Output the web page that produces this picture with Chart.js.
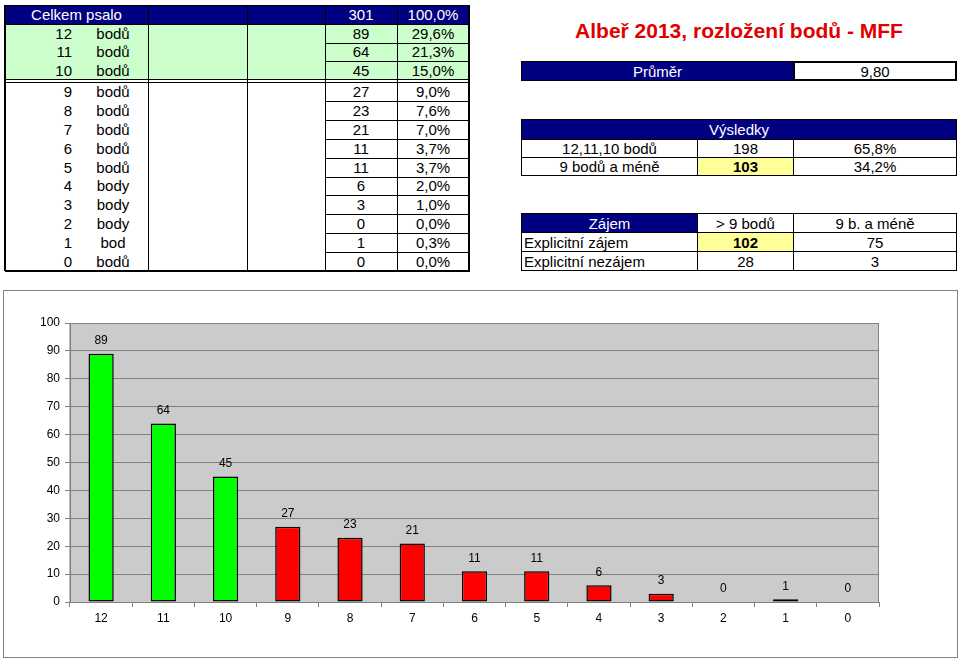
<!DOCTYPE html>
<html>
<head>
<meta charset="utf-8">
<script src="https://cdn.jsdelivr.net/npm/chart.js@4.4.0/dist/chart.umd.min.js"></script>
<style>
body { margin:0; width:960px; height:660px; background:#fff; position:relative; overflow:hidden;
       font-family:"Liberation Sans", Arial, sans-serif; font-size:15px; color:#000; }
.c { position:absolute; box-sizing:border-box; display:flex; align-items:center; justify-content:center;
     white-space:nowrap; line-height:1; }
.b { border:1px solid #000; }
.nav { background:#000080; color:#fff; }
.zl { background:#ffff99; font-weight:bold; }
.ln { position:absolute; background:#000; }
#ram { position:absolute; left:3px; top:290px; width:955px; height:368px; border:1px solid #808080; box-sizing:border-box; }
#obal { position:absolute; left:0; top:0; width:953px; height:366px; }
</style>
</head>
<body>
<div id="tabulky"></div>
<div id="ram"><div id="obal"><canvas id="graf"></canvas></div></div>

<script>
// data grafu
const kategorie = ['12', '11', '10', '9', '8', '7', '6', '5', '4', '3', '2', '1', '0'];
const pocty = [89, 64, 45, 27, 23, 21, 11, 11, 6, 3, 0, 1, 0];
const osaY = { min: 0, max: 100, krok: 10 };

// texty tabulky vlevo
const slova = ['bodů', 'bodů', 'bodů', 'bodů', 'bodů', 'bodů', 'bodů', 'bodů', 'body', 'body', 'body', 'bod', 'bodů'];
const procenta = ['29,6%', '21,3%', '15,0%', '9,0%', '7,6%', '7,0%', '3,7%', '3,7%', '2,0%', '1,0%', '0,0%', '0,3%', '0,0%'];
const celkem = 301;

const el = document.getElementById('tabulky');
function bunka(x, y, w, h, text, tridy, styl) {
  const d = document.createElement('div');
  d.className = 'c ' + (tridy || '');
  d.style.cssText = `left:${x}px;top:${y}px;width:${w}px;height:${h}px;` + (styl || '');
  d.textContent = text;
  el.appendChild(d);
  return d;
}
function cara(x, y, w, h) {
  const d = document.createElement('div');
  d.className = 'ln';
  d.style.cssText = `left:${x}px;top:${y}px;width:${w}px;height:${h}px;`;
  el.appendChild(d);
}

// --- tabulka vlevo ---
const sl = [5, 148, 247, 325, 397, 469];
const radky = [];
let yy = 24;
for (let i = 0; i < 13; i++) {
  if (i === 3) yy = 82;
  const h = i < 3 ? 18.5 : 18.9;
  radky.push([yy, h]);
  yy += h;
}
bunka(5, 5, 464, 19, '', 'nav');
bunka(5, 24, 464, 55.5, '', '', 'background:#ccffcc;');
bunka(5, 5, 143, 19, 'Celkem psalo', '', 'color:#fff;');
bunka(325, 5, 72, 19, String(celkem), '', 'color:#fff;');
bunka(397, 5, 72, 19, '100,0%', '', 'color:#fff;');
radky.forEach(([y, h], i) => {
  bunka(5, y, 67, h, kategorie[i], '', 'justify-content:flex-end;');
  bunka(90, y, 46, h, slova[i]);
  bunka(325, y, 72, h, String(pocty[i]));
  bunka(397, y, 72, h, procenta[i]);
  cara(325, y, 144, 1);
});
sl.forEach(x => cara(x, 5, 1, 266));
cara(5, 5, 465, 1);
cara(5, 24, 465, 1);
cara(5, 79, 465, 1);
cara(5, 82, 465, 1);
cara(5, 270, 465, 1.5);
cara(4, 5, 2, 266);
cara(468, 5, 2, 266);

// --- vpravo ---
bunka(521, 14, 436, 32, 'Albeř 2013, rozložení bodů - MFF', '', 'color:#e00000;font-weight:bold;font-size:21px;');
bunka(521, 61, 273, 20, 'Průměr', 'b nav');
bunka(793, 61, 164, 20, '9,80', 'b', 'border-width:2px;');

bunka(521, 119, 436, 21, 'Výsledky', 'b nav');
bunka(521, 139, 177, 19, '12,11,10 bodů', 'b');
bunka(697, 139, 97, 19, '198', 'b');
bunka(793, 139, 164, 19, '65,8%', 'b');
bunka(521, 157, 177, 19, '9 bodů a méně', 'b');
bunka(697, 157, 97, 19, '103', 'b zl');
bunka(793, 157, 164, 19, '34,2%', 'b');

bunka(521, 213, 177, 20, 'Zájem', 'b nav');
bunka(697, 213, 97, 20, '> 9 bodů', 'b');
bunka(793, 213, 164, 20, '9 b. a méně', 'b');
bunka(521, 232, 177, 20, 'Explicitní zájem', 'b', 'justify-content:flex-start;padding-left:2px;');
bunka(697, 232, 97, 20, '102', 'b zl');
bunka(793, 232, 164, 20, '75', 'b');
bunka(521, 251, 177, 20, 'Explicitní nezájem', 'b', 'justify-content:flex-start;padding-left:2px;');
bunka(697, 251, 97, 20, '28', 'b');
bunka(793, 251, 164, 20, '3', 'b');

// --- graf ---
Chart.defaults.font.family = '"Liberation Sans", Arial, sans-serif';
Chart.defaults.font.size = 12;
Chart.defaults.color = '#000';

const pozadi = {
  id: 'pozadi',
  beforeDraw(chart) {
    const { ctx, chartArea: a } = chart;
    ctx.save();
    ctx.fillStyle = '#cbcbcb';
    ctx.fillRect(a.left, a.top, a.width, a.height);
    ctx.strokeStyle = '#808080';
    ctx.lineWidth = 1;
    ctx.strokeRect(a.left, a.top + 0.5, a.width - 0.5, a.height);
    ctx.restore();
  }
};

const popisky = {
  id: 'popisky',
  afterDatasetsDraw(chart) {
    const ctx = chart.ctx;
    const meta = chart.getDatasetMeta(0);
    ctx.save();
    ctx.font = '12px "Liberation Sans", Arial, sans-serif';
    ctx.fillStyle = '#000';
    ctx.textAlign = 'center';
    ctx.textBaseline = 'middle';
    meta.data.forEach((bar, i) => {
      ctx.fillText(String(pocty[i]), bar.x, bar.y - 13);
    });
    ctx.restore();
  }
};

new Chart(document.getElementById('graf'), {
  type: 'bar',
  data: {
    labels: kategorie,
    datasets: [{
      data: pocty,
      backgroundColor: c => Number(kategorie[c.dataIndex]) >= 10 ? '#00ff00' : '#ff0000',
      borderColor: '#000',
      borderWidth: c => pocty[c.dataIndex] === 0 ? 0 : 1.5,
      borderSkipped: false,
      categoryPercentage: 1,
      barPercentage: 0.405
    }]
  },
  options: {
    responsive: true,
    maintainAspectRatio: false,
    animation: false,
    layout: { padding: { top: 32, right: 78, left: 0, bottom: 0 } },
    plugins: { legend: { display: false }, tooltip: { enabled: false } },
    scales: {
      x: {
        offset: true,
        grid: { offset: true, drawOnChartArea: false, tickLength: 5, color: '#808080' },
        border: { color: '#808080' },
        ticks: { padding: 4, maxRotation: 0 },
        afterFit: s => { s.height = 55; }
      },
      y: {
        min: osaY.min,
        max: osaY.max,
        grid: { color: '#808080', tickLength: 5 },
        border: { color: '#808080' },
        ticks: { stepSize: osaY.krok, padding: 5 },
        afterFit: s => { s.width = 66; }
      }
    }
  },
  plugins: [pozadi, popisky]
});
</script>
</body>
</html>
